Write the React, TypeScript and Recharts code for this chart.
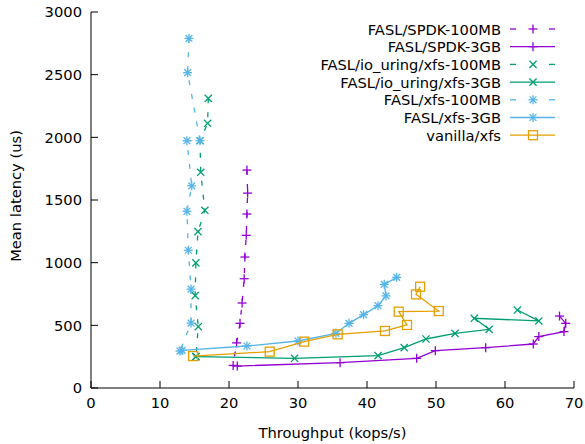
import React from 'react';
import { ScatterChart, Scatter, XAxis, YAxis, Legend, Label } from 'recharts';

const xTicks = [0, 10, 20, 30, 40, 50, 60, 70];
const yTicks = [0, 500, 1000, 1500, 2000, 2500, 3000];

const spdk100X = [22.6, 22.7, 22.6, 22.5, 22.3, 22.2, 21.9, 21.6, 21.1, 20.6];
const spdk100Y = [1739, 1555, 1388, 1218, 1045, 872, 678, 516, 360, 180];

const spdk3X = [21.2, 36.1, 47.2, 49.9, 57.2, 64.1, 64.9, 68.55, 68.8, 67.9];
const spdk3Y = [175, 202, 237, 298, 322, 351, 410, 450, 516, 574];

const uring100X = [17.0, 16.9, 15.8, 15.9, 16.5, 15.5, 15.2, 15.1, 15.55, 15.2];
const uring100Y = [2311, 2112, 1973, 1721, 1418, 1248, 998, 737, 489, 250];

const uring3X = [15.2, 29.5, 41.6, 45.4, 48.55, 52.75, 57.7, 55.55, 64.9, 61.8];
const uring3Y = [250, 237, 258, 322, 391, 436, 468, 556, 535, 622];

const xfs100X = [14.2, 14.0, 15.8, 13.9, 14.6, 13.9, 14.1, 14.5, 14.5, 12.9];
const xfs100Y = [2790, 2516, 1973, 1973, 1613, 1410, 1099, 789, 518, 295];

const xfs3X = [13.2, 22.6, 30.0, 35.5, 37.4, 39.5, 41.6, 42.75, 42.5, 44.3];
const xfs3Y = [300, 335, 375, 436, 516, 585, 657, 735, 827, 883];

const vanillaX = [14.8, 25.9, 30.9, 35.75, 42.6, 45.8, 44.6, 50.4, 47.1, 47.7];
const vanillaY = [255, 290, 370, 428, 455, 503, 609, 614, 747, 808];

const PURPLE = '#9400d3';
const GREEN = '#009e73';
const BLUE = '#56b4e9';
const ORANGE = '#e69f00';

const FONT = 'DejaVu Sans';
const FS = 14.7;

const zip = (xs: number[], ys: number[]) => xs.map((x, i) => ({ x, y: ys[i] }));

type MarkerType = 'plus' | 'cross' | 'star' | 'square';

const drawMarker = (type: MarkerType, color: string, cx: number, cy: number) => {
  const sw = 1.3;
  if (type === 'plus') {
    const h = 4.5;
    return (
      <g stroke={color} strokeWidth={sw}>
        <line x1={cx - h} y1={cy} x2={cx + h} y2={cy} />
        <line x1={cx} y1={cy - h} x2={cx} y2={cy + h} />
      </g>
    );
  }
  if (type === 'cross') {
    const h = 3.6;
    return (
      <g stroke={color} strokeWidth={sw}>
        <line x1={cx - h} y1={cy - h} x2={cx + h} y2={cy + h} />
        <line x1={cx - h} y1={cy + h} x2={cx + h} y2={cy - h} />
      </g>
    );
  }
  if (type === 'star') {
    const h = 4.5;
    const d = 3.4;
    return (
      <g stroke={color} strokeWidth={sw}>
        <line x1={cx - h} y1={cy} x2={cx + h} y2={cy} />
        <line x1={cx} y1={cy - h} x2={cx} y2={cy + h} />
        <line x1={cx - d} y1={cy - d} x2={cx + d} y2={cy + d} />
        <line x1={cx - d} y1={cy + d} x2={cx + d} y2={cy - d} />
      </g>
    );
  }
  const h = 4.5;
  return <rect x={cx - h} y={cy - h} width={2 * h} height={2 * h} fill="none" stroke={color} strokeWidth={sw} />;
};

const makeShape = (type: MarkerType, color: string) => (props: any) => {
  const { cx, cy } = props;
  if (cx == null || cy == null) return <g />;
  return drawMarker(type, color, cx, cy);
};

const seriesDefs = [
  { name: 'FASL/SPDK-100MB', data: zip(spdk100X, spdk100Y), color: PURPLE, marker: 'plus' as MarkerType, dashed: true },
  { name: 'FASL/SPDK-3GB', data: zip(spdk3X, spdk3Y), color: PURPLE, marker: 'plus' as MarkerType, dashed: false },
  { name: 'FASL/io_uring/xfs-100MB', data: zip(uring100X, uring100Y), color: GREEN, marker: 'cross' as MarkerType, dashed: true },
  { name: 'FASL/io_uring/xfs-3GB', data: zip(uring3X, uring3Y), color: GREEN, marker: 'cross' as MarkerType, dashed: false },
  { name: 'FASL/xfs-100MB', data: zip(xfs100X, xfs100Y), color: BLUE, marker: 'star' as MarkerType, dashed: true },
  { name: 'FASL/xfs-3GB', data: zip(xfs3X, xfs3Y), color: BLUE, marker: 'star' as MarkerType, dashed: false },
  { name: 'vanilla/xfs', data: zip(vanillaX, vanillaY), color: ORANGE, marker: 'square' as MarkerType, dashed: false },
];

const renderLegend = () => {
  const textRight = 501;
  const lx1 = 510;
  const lx2 = 555;
  const mx = 533;
  const y0 = 29;
  const dy = 17.7;
  return (
    <svg width={585} height={160} style={{ display: 'block' }}>
      {seriesDefs.map((s, i) => {
        const y = y0 + i * dy;
        return (
          <g key={s.name}>
            <text x={textRight} y={y} textAnchor="end" dominantBaseline="central" fontFamily={FONT} fontSize={FS} fill="#000">
              {s.name}
            </text>
            {s.dashed ? (
              <g stroke={s.color} strokeWidth={1.3}>
                <line x1={lx1} y1={y} x2={lx1 + 6} y2={y} />
                <line x1={lx2 - 6} y1={y} x2={lx2} y2={y} />
              </g>
            ) : (
              <line x1={lx1} y1={y} x2={lx2} y2={y} stroke={s.color} strokeWidth={1.3} />
            )}
            {drawMarker(s.marker, s.color, mx, y)}
          </g>
        );
      })}
    </svg>
  );
};

const YTitle = () => (
  <text x={21} y={196} transform="rotate(-90 21 196)" textAnchor="middle" fontFamily={FONT} fontSize={FS} fill="#000">
    Mean latency (us)
  </text>
);

export default function App() {
  return (
    <div style={{ position: 'absolute', left: 0, top: 0, width: 585, height: 444, background: '#fff' }}>
      <ScatterChart width={585} height={444} margin={{ top: 12, right: 11, left: 0, bottom: 0 }}>
        <XAxis
          xAxisId={0}
          type="number"
          dataKey="x"
          domain={[0, 70]}
          ticks={xTicks}
          interval={0}
          allowDataOverflow
          orientation="bottom"
          height={56}
          tickSize={-7}
          tickMargin={17}
          axisLine={{ stroke: '#000', strokeWidth: 1 }}
          tickLine={{ stroke: '#000', strokeWidth: 1 }}
          tick={{ fill: '#000', fontSize: FS, fontFamily: FONT }}
        >
          <Label value="Throughput (kops/s)" position="insideBottom" offset={6} style={{ fontSize: FS, fontFamily: FONT, fill: '#000' }} />
        </XAxis>
        <XAxis
          xAxisId="top"
          type="number"
          domain={[0, 70]}
          ticks={xTicks}
          interval={0}
          allowDataOverflow
          orientation="top"
          height={0}
          tickSize={-7}
          tick={false}
          axisLine={{ stroke: '#000', strokeWidth: 1 }}
          tickLine={{ stroke: '#000', strokeWidth: 1 }}
        />
        <YAxis
          yAxisId={0}
          type="number"
          dataKey="y"
          domain={[0, 3000]}
          ticks={yTicks}
          interval={0}
          allowDataOverflow
          orientation="left"
          width={91}
          tickSize={-7}
          tickMargin={16}
          axisLine={{ stroke: '#000', strokeWidth: 1 }}
          tickLine={{ stroke: '#000', strokeWidth: 1 }}
          tick={{ fill: '#000', fontSize: FS, fontFamily: FONT }}
        >
          <Label content={<YTitle />} />
        </YAxis>
        <YAxis
          yAxisId="right"
          type="number"
          domain={[0, 3000]}
          ticks={yTicks}
          interval={0}
          allowDataOverflow
          orientation="right"
          width={0}
          tickSize={-7}
          tick={false}
          axisLine={{ stroke: '#000', strokeWidth: 1 }}
          tickLine={{ stroke: '#000', strokeWidth: 1 }}
        />
        <Legend
          layout="horizontal"
          verticalAlign="middle"
          align="center"
          content={renderLegend}
          wrapperStyle={{ position: 'absolute', left: 0, top: 0, width: 585, height: 160, pointerEvents: 'none' }}
        />
        {seriesDefs.map((s) => (
          <Scatter
            key={s.name}
            name={s.name}
            data={s.data}
            xAxisId={0}
            yAxisId={0}
            fill={s.color}
            line={{ stroke: s.color, strokeWidth: 1.3, strokeDasharray: s.dashed ? '5 9' : undefined }}
            lineType="joint"
            shape={makeShape(s.marker, s.color)}
            isAnimationActive={false}
          />
        ))}
      </ScatterChart>
    </div>
  );
}
